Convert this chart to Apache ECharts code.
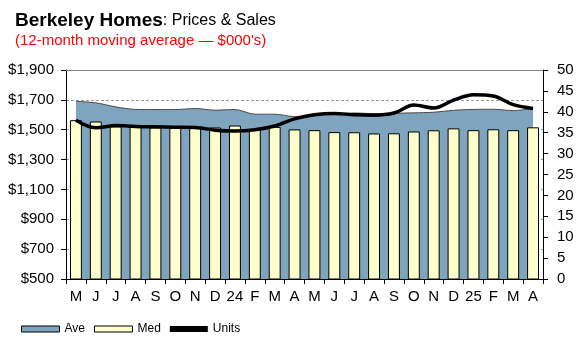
<!DOCTYPE html>
<html>
<head>
<meta charset="utf-8">
<script src="https://cdn.jsdelivr.net/npm/echarts@6/dist/echarts.min.js"></script>
<style>
html,body{margin:0;padding:0;background:#fff;}
#c{width:577px;height:343px;}
</style>
</head>
<body>
<div id="c"></div>
<script>
const categories = ['M','J','J','A','S','O','N','D','24','F','M','A','M','J','J','A','S','O','N','D','25','F','M','A'];
const aveValues = [1690,1680,1653,1636,1635,1635,1642,1631,1635,1604,1604,1588,1600,1605,1612,1608,1610,1613,1617,1630,1636,1637,1628,1642];
const medValues = [1564,1555,1522,1518,1515,1515,1515,1515,1528,1505,1519,1502,1497,1484,1483,1475,1476,1488,1496,1509,1497,1503,1497,1516];
const unitValues = [38.0,36.2,36.7,36.5,36.4,36.3,36.25,35.6,35.4,35.7,36.6,38.3,39.3,39.6,39.3,39.2,39.7,41.6,40.9,42.8,44.1,43.8,41.7,40.8];
const seriesNames = ['Ave','Med','Units'];

const FONT = '"Liberation Sans", Arial, sans-serif';
const chart = echarts.init(document.getElementById('c'), null, {renderer:'canvas'});
const fmtDollar = v => '$' + v.toLocaleString('en-US');

chart.setOption({
  animation: false,
  backgroundColor: '#fff',
  textStyle: {fontFamily: FONT},
  title: {
    left: 10, top: 6,
    text: '{a|Berkeley Homes}{b|: Prices & Sales}\n{c|(12-month moving average \u2014 $000\'s)}',
    textStyle: {
      fontWeight: 'normal',
      rich: {
        a: {fontFamily: FONT, fontSize: 19, fontWeight: 'bold', color: '#000', lineHeight: 20},
        b: {fontFamily: FONT, fontSize: 16, fontWeight: 'normal', color: '#000', lineHeight: 20},
        c: {fontFamily: FONT, fontSize: 15, fontWeight: 'normal', color: '#ff0000', lineHeight: 20}
      }
    }
  },
  legend: {
    left: 16, top: 318,
    itemWidth: 38, itemHeight: 6, itemGap: 9,
    textStyle: {fontFamily: FONT, fontSize: 12, color: '#000'},
    data: [
      {name: seriesNames[0], icon: 'rect', itemStyle: {color: '#7fa4bd', borderColor: '#000', borderWidth: 1}},
      {name: seriesNames[1], icon: 'rect', itemStyle: {color: '#ffffcc', borderColor: '#000', borderWidth: 1}},
      {name: seriesNames[2], icon: 'rect', itemStyle: {color: '#000', borderColor: '#000', borderWidth: 0}}
    ]
  },
  grid: {left: 66, right: 34, top: 70, bottom: 64, show: false},
  xAxis: {
    type: 'category',
    data: categories,
    boundaryGap: true,
    axisLine: {lineStyle: {color: '#000', width: 1}},
    axisTick: {show: true, length: 5, lineStyle: {color: '#000'}},
    axisLabel: {color: '#000', fontSize: 15, fontFamily: FONT, margin: 10, interval: 0}
  },
  yAxis: [
    {
      type: 'value', min: 500, max: 1900, interval: 200, position: 'left',
      axisLine: {show: true, lineStyle: {color: '#000'}},
      axisTick: {show: true, length: 5, lineStyle: {color: '#000'}},
      axisLabel: {color: '#000', fontSize: 15, fontFamily: FONT, margin: 12, formatter: fmtDollar},
      splitLine: {show: true, lineStyle: {color: '#999', type: [3, 2], width: 1}}
    },
    {
      type: 'value', min: 0, max: 50, interval: 5, position: 'right',
      axisLine: {show: true, lineStyle: {color: '#000'}},
      axisTick: {show: true, length: 5, lineStyle: {color: '#000'}},
      axisLabel: {color: '#000', fontSize: 15, fontFamily: FONT, margin: 14},
      splitLine: {show: false}
    }
  ],
  series: [
    {
      name: seriesNames[0], type: 'line', yAxisIndex: 0, data: aveValues,
      symbol: 'none', smooth: 0.3,
      itemStyle: {color: '#7fa4bd'},
      lineStyle: {color: '#4a4a4a', width: 1},
      areaStyle: {color: '#7fa4bd', opacity: 1, origin: 'start'},
      markLine: {
        silent: true, symbol: 'none', label: {show: false},
        lineStyle: {color: '#808080', type: 'solid', width: 1},
        data: [{yAxis: 1900}]
      },
      z: 1
    },
    {
      name: seriesNames[1], type: 'bar', yAxisIndex: 0, data: medValues,
      barWidth: '60%',
      itemStyle: {color: '#ffffcc', borderColor: '#000', borderWidth: 1},
      z: 2
    },
    {
      name: seriesNames[2], type: 'line', yAxisIndex: 1, data: unitValues,
      symbol: 'none', smooth: 0.35,
      itemStyle: {color: '#000'},
      lineStyle: {color: '#000', width: 3.5},
      z: 3
    }
  ]
});
</script>
</body>
</html>
